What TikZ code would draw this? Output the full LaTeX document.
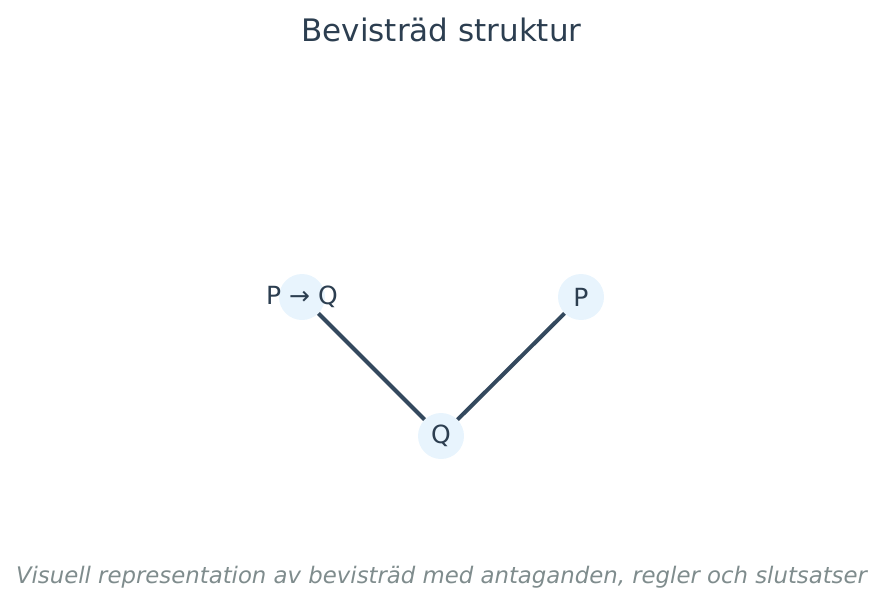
\documentclass[tikz,border=0pt]{standalone}
\usepackage{fontspec}
\setmainfont{DejaVu Sans}
\usepackage{tikz}
\usetikzlibrary{positioning}
\definecolor{nodefill}{HTML}{E8F4FD}
\definecolor{edgecol}{HTML}{34495E}
\definecolor{textcol}{HTML}{2C3E50}
\definecolor{notecol}{HTML}{7F8C8D}
\tikzset{
    prooftree/.style={x=1pt, y=-1pt},
    formula/.style={circle, fill=nodefill, minimum size=46pt, inner sep=0pt,
        text=textcol, font=\fontsize{25}{30}\selectfont},
    rulelink/.style={draw=edgecol, line width=4pt}
}
\begin{document}
\begin{tikzpicture}[prooftree]
\useasboundingbox (0,0) rectangle (883,607);
\node[text=textcol, font=\fontsize{31}{36}\selectfont, anchor=base] (title) at (441.5,42) {Bevisträd struktur};
\node[formula] (pq) at (302,297) {};
\node[text=textcol, font=\fontsize{25}{30}\selectfont] (pqtext) at (pq.center) {P → Q};
\node[formula] (p) at (581,297) {P};
\node[formula] (q) at (441,436) {Q};
\draw[rulelink] (pq) -- (q);
\draw[rulelink] (p) -- (q);
\node[text=notecol, font=\fontsize{22.8}{27}\selectfont\itshape, anchor=base] (note) at (441.5,583)
    {Visuell representation av bevisträd med antaganden, regler och slutsatser};
\end{tikzpicture}
\end{document}
